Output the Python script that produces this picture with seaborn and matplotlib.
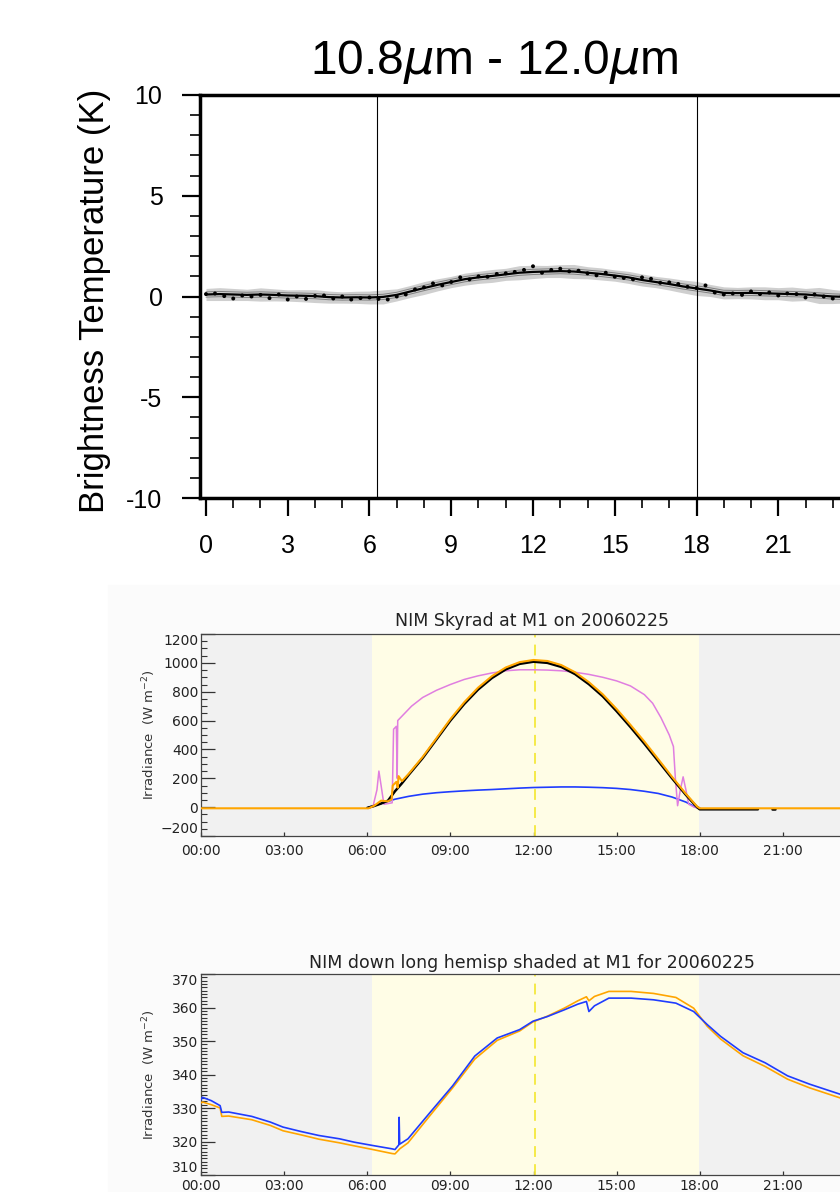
import matplotlib
matplotlib.use("Agg")
import matplotlib.pyplot as plt
from matplotlib.patches import Rectangle
from matplotlib.ticker import MultipleLocator, FixedLocator, FuncFormatter
import numpy as np
import seaborn as sns

sns.set_theme(style="white")
plt.rcParams["font.family"] = ["Liberation Sans", "DejaVu Sans"]
plt.rcParams["axes.unicode_minus"] = True

# ---------- panel 1: brightness temperature difference ----------
bt_hours = [0, 0.5, 1, 1.5, 2, 2.5, 3, 3.5, 4, 4.5, 5, 5.5, 6, 6.5, 7, 7.5, 8, 8.5,
            9, 9.5, 10, 10.5, 11, 11.5, 12, 12.5, 13, 13.5, 14, 14.5, 15, 15.5, 16,
            16.5, 17, 17.5, 18, 18.5, 19, 19.5, 20, 20.5, 21, 21.5, 22, 22.5, 23,
            23.5, 24]
bt_mean = [0.10, 0.12, 0.10, 0.08, 0.10, 0.08, 0.05, 0.04, 0.02, -0.03,
           -0.05, -0.04, -0.05, -0.02, 0.08, 0.25, 0.42, 0.58, 0.72, 0.86,
           0.95, 1.02, 1.10, 1.18, 1.22, 1.24, 1.26, 1.24, 1.18, 1.12,
           1.04, 0.95, 0.82, 0.72, 0.62, 0.50, 0.40, 0.30, 0.18, 0.17,
           0.18, 0.16, 0.14, 0.12, 0.10, 0.05, 0.00, -0.02, 0.00]
bt_spread = [0.30, 0.32, 0.30, 0.28, 0.33, 0.30, 0.28, 0.30, 0.32, 0.30,
             0.28, 0.30, 0.32, 0.35, 0.30, 0.30, 0.32, 0.30, 0.28, 0.30,
             0.30, 0.32, 0.30, 0.35, 0.33, 0.30, 0.32, 0.35, 0.30, 0.30,
             0.28, 0.30, 0.30, 0.28, 0.30, 0.32, 0.35, 0.30, 0.30, 0.28,
             0.30, 0.32, 0.30, 0.35, 0.30, 0.40, 0.35, 0.30, 0.30]
bt_inner = 0.13
dot_hours = [0.0, 0.33, 0.67, 1.0, 1.33, 1.67, 2.0, 2.33, 2.67, 3.0, 3.33, 3.67,
             4.0, 4.33, 4.67, 5.0, 5.33, 5.67, 6.0, 6.33, 6.67, 7.0, 7.33, 7.67,
             8.0, 8.33, 8.67, 9.0, 9.33, 9.67, 10.0, 10.33, 10.67, 11.0, 11.33, 11.67,
             12.0, 12.33, 12.67, 13.0, 13.33, 13.67, 14.0, 14.33, 14.67, 15.0, 15.33, 15.67,
             16.0, 16.33, 16.67, 17.0, 17.33, 17.67, 18.0, 18.33, 18.67, 19.0, 19.33, 19.67,
             20.0, 20.33, 20.67, 21.0, 21.33, 21.67, 22.0, 22.33, 22.67, 23.0, 23.33, 23.67]
dot_vals = [0.12, 0.15, 0.02, -0.10, 0.05, 0.00, 0.08, -0.08, 0.10, -0.15, 0.00, -0.12,
            0.03, 0.05, -0.10, 0.00, -0.15, -0.08, -0.05, -0.12, -0.15, 0.00, 0.10, 0.35,
            0.45, 0.65, 0.55, 0.72, 0.95, 0.85, 1.00, 0.98, 1.12, 1.15, 1.22, 1.32,
            1.50, 1.18, 1.32, 1.38, 1.25, 1.28, 1.15, 1.05, 1.18, 0.98, 0.92, 0.85,
            0.95, 0.88, 0.68, 0.70, 0.62, 0.48, 0.42, 0.55, 0.20, 0.10, 0.15, 0.08,
            0.25, 0.12, 0.20, 0.05, 0.15, 0.12, -0.05, 0.10, 0.00, -0.10, 0.05, -0.10]
bt_marks = [6.27, 18.0]
hour_ticks = [0, 3, 6, 9, 12, 15, 18, 21]

# ---------- panel 2: NIM Skyrad shortwave ----------
sw_ticks = [-200, 0, 200, 400, 600, 800, 1000, 1200]
sw_black_t = [6.0, 6.25, 6.5, 6.75, 7.0, 7.25, 7.5, 8.0, 8.5, 9.0, 9.5, 10.0, 10.5, 11.0,
              11.5, 12.0, 12.5, 13.0, 13.5, 14.0, 14.5, 15.0, 15.5, 16.0, 16.5, 17.0,
              17.5, 17.9, 18.0, 20.1]
sw_black_v = [-5, 8, 25, 45, 110, 165, 225, 340, 470, 600, 715, 815, 895, 955,
              993, 1008, 1000, 972, 922, 852, 768, 665, 555, 440, 320, 200,
              85, 0, -15, -15]
sw_black_dash_t = [20.62, 20.72]
sw_black_dash_v = [-15, -15]
sw_orange_t = [0.0, 6.05, 6.25, 6.5, 6.75, 6.88, 6.92, 7.05, 7.1, 7.13, 7.25, 7.5, 8.0,
               8.5, 9.0, 9.5, 10.0, 10.5, 11.0, 11.5, 12.0, 12.5, 13.0, 13.5, 14.0,
               14.5, 15.0, 15.5, 16.0, 16.5, 17.0, 17.5, 17.9, 18.0, 24.0]
sw_orange_v = [-8, -8, 10, 45, 40, 55, 150, 175, 135, 215, 180, 232, 348,
               478, 610, 727, 828, 908, 968, 1005, 1020, 1013, 985, 935, 866,
               782, 680, 570, 455, 333, 210, 92, 5, -8, -8]
sw_violet_t = [6.2, 6.35, 6.42, 6.5, 6.6, 6.9, 6.95, 7.05, 7.08, 7.1, 7.3, 7.6, 8.0,
               8.5, 9.0, 9.5, 10.0, 10.5, 11.0, 11.5, 12.0, 12.5, 13.0, 13.5, 14.0,
               14.5, 15.0, 15.5, 16.0, 16.3, 16.6, 16.9, 17.05, 17.12, 17.2, 17.3,
               17.4, 17.5, 17.6, 17.8, 18.0]
sw_violet_v = [0, 120, 250, 150, 20, 30, 540, 560, 200, 600, 640, 700, 760,
               810, 850, 885, 910, 930, 945, 952, 952, 950, 945, 935, 920,
               900, 875, 840, 780, 720, 620, 500, 420, 200, 10, 120,
               210, 120, 20, 0, -10]
sw_blue_t = [6.05, 6.5, 7.0, 7.5, 8.0, 8.5, 9.0, 9.5, 10.0, 10.5, 11.0, 11.5, 12.0,
             12.5, 13.0, 13.5, 14.0, 14.5, 15.0, 15.5, 16.0, 16.5, 17.0, 17.5, 17.8, 18.0]
sw_blue_v = [0, 25, 55, 75, 90, 100, 107, 113, 118, 122, 127, 132, 136,
             138, 140, 140, 138, 135, 130, 122, 110, 95, 70, 35, 5, -5]

# ---------- panel 3: NIM down long hemisp shaded ----------
lw_ticks = [310, 320, 330, 340, 350, 360, 370]
lw_t = [0.0, 0.05, 0.37, 0.69, 0.75, 1.0, 1.83, 2.5, 2.96, 3.6, 4.25, 5.0, 5.53, 6.2,
        6.9, 7.0, 7.14, 7.15, 7.17, 7.47, 8.27, 9.08, 9.88, 10.69, 11.5, 11.98, 12.5,
        13.11, 13.6, 13.91, 14.0, 14.2, 14.72, 15.52, 16.33, 17.14, 17.78, 18.27,
        18.75, 19.56, 20.36, 21.17, 21.97, 23.07, 24.0]
lw_blue_v = [332.5, 333.2, 332.2, 330.7, 328.7, 328.8, 327.5, 325.8, 324.3, 323.0,
             321.8, 320.8, 319.8, 318.8, 317.8, 317.6, 319.0, 327.2, 319.2, 320.8,
             328.7, 336.6, 345.5, 350.9, 353.4, 355.9, 357.3, 359.3, 361.0, 361.8,
             358.8, 360.5, 362.8, 362.8, 362.3, 361.3, 358.8, 354.9, 351.4, 346.5,
             343.5, 339.6, 337.1, 334.1, 332.5]
lw_orange_v = [331.5, 331.8, 331.0, 330.0, 327.5, 327.6, 326.5, 324.8, 323.2, 322.0,
               320.7, 319.6, 318.7, 317.6, 316.4, 316.3, 317.5, 317.6, 317.8, 319.6,
               327.8, 336.0, 344.6, 350.2, 353.0, 355.7, 357.4, 359.8, 362.0, 363.2,
               362.0, 363.3, 364.8, 364.8, 364.2, 363.0, 359.8, 354.4, 350.6, 345.6,
               342.4, 338.6, 336.0, 333.0, 331.4]

daylight = (6.17, 17.97)
solar_noon = 12.05

W, H = 840, 1192
fig = plt.figure(figsize=(W / 100, H / 100), dpi=100)
fig.patch.set_facecolor("white")


def box(left, top, right, bottom):
    return [left / W, 1 - bottom / H, (right - left) / W, (bottom - top) / H]


# faint backdrop behind the two NIM plots
fig.patches.append(Rectangle((108 / W, 0), 1 - 108 / W, 1 - 585 / H,
                             transform=fig.transFigure, color="#fbfbfb", zorder=-5))

# ----- panel 1 -----
ax1 = fig.add_axes(box(200, 95, 866, 498))
mean = np.array(bt_mean)
spread = np.array(bt_spread)
ax1.fill_between(bt_hours, mean - spread, mean + spread, color="#cfcfcf", lw=0)
sns.lineplot(x=bt_hours, y=mean + bt_inner, ax=ax1, color="#808080", lw=0.7)
sns.lineplot(x=bt_hours, y=mean - bt_inner, ax=ax1, color="#808080", lw=0.7)
sns.lineplot(x=bt_hours, y=bt_mean, ax=ax1, color="black", lw=1.6)
sns.scatterplot(x=dot_hours, y=dot_vals, ax=ax1, color="black", s=8,
                edgecolor="none", zorder=4)
for h in bt_marks:
    ax1.axvline(h, color="black", lw=0.8)

ax1.set_xlim(-0.22, 24.22)
ax1.set_ylim(-10, 10)
ax1.xaxis.set_major_locator(FixedLocator(hour_ticks))
ax1.xaxis.set_minor_locator(MultipleLocator(1))
ax1.yaxis.set_major_locator(MultipleLocator(5))
ax1.yaxis.set_minor_locator(MultipleLocator(1))
ax1.yaxis.set_major_formatter(FuncFormatter(lambda v, p: f"{v:g}".replace("\u2212", "-")))
ax1.tick_params(which="major", direction="out", length=13, width=1.6,
                labelsize=18, colors="black", labelcolor="black")
ax1.tick_params(which="minor", direction="out", length=7, width=1.4)
ax1.tick_params(axis="x", which="major", pad=13)
ax1.tick_params(axis="y", which="major", pad=14)
ax1.tick_params(bottom=True, left=True, which="both")
for side in ["left", "top", "bottom"]:
    ax1.spines[side].set_linewidth(2.5)
    ax1.spines[side].set_color("black")
ax1.spines["right"].set_visible(False)
ax1.set_facecolor("white")
fig.text(494 / W, 1 - 62 / H, r"10.8$\mu$m - 12.0$\mu$m", ha="center", va="center",
         fontsize=34.5, color="black")
fig.text(95 / W, 1 - 301 / H, "Brightness Temperature (K)", rotation=90,
         ha="center", va="center", fontsize=25, color="black")


def style_nim(ax, title, ylim, yticks, minor, title_off, xpad):
    ax.set_facecolor("#f1f1f1")
    ax.axvspan(daylight[0], daylight[1], color="#fffde6", lw=0, zorder=0)
    ax.axvline(solar_noon, color="#f5e83c", lw=1.3, dashes=(6, 4), zorder=1)
    ax.set_xlim(0, 24)
    ax.set_ylim(*ylim)
    ax.xaxis.set_major_locator(FixedLocator(hour_ticks))
    ax.xaxis.set_major_formatter(FuncFormatter(lambda v, p: f"{int(round(v)):02d}:00"))
    ax.yaxis.set_major_locator(FixedLocator(yticks))
    ax.yaxis.set_minor_locator(MultipleLocator(minor))
    ax.tick_params(axis="y", which="major", direction="in", length=10, width=0.9,
                   labelsize=10, pad=2, colors="#333333", left=True)
    ax.tick_params(axis="y", which="minor", direction="in", length=4.5, width=0.8,
                   colors="#333333", left=True)
    ax.tick_params(axis="x", which="major", direction="in", length=3, width=0.9,
                   labelsize=10, pad=xpad, colors="#333333", bottom=True)
    for s in ax.spines.values():
        s.set_color("#444444")
        s.set_linewidth(0.9)
    for lab in ax.get_xticklabels() + ax.get_yticklabels():
        lab.set_family("DejaVu Sans")
        lab.set_color("#222222")
    # end labels are nudged inside the frame, as in the original
    yt = ax.yaxis.get_major_ticks()
    yt[0].label1.set_va("bottom")
    yt[-1].label1.set_va("top")
    ax.text(331 / 665, 1 + title_off, title, transform=ax.transAxes,
            ha="center", va="center", fontsize=12.5, family="DejaVu Sans",
            color="#222222")
    ax.set_ylabel("Irradiance  (W m$^{-2}$)", fontsize=9.5, family="DejaVu Sans",
                  color="#333333", va="center")
    ax.yaxis.set_label_coords(-52 / 665, 0.5)


# ----- panel 2 -----
ax2 = fig.add_axes(box(201, 634, 866, 836))
style_nim(ax2, "NIM Skyrad at M1 on 20060225", (-200, 1200), sw_ticks, 50, 13 / 202, 6)
sns.lineplot(x=sw_blue_t, y=sw_blue_v, ax=ax2, color="#1f3cff", lw=1.2,
             sort=False, estimator=None, zorder=3)
sns.lineplot(x=sw_violet_t, y=sw_violet_v, ax=ax2, color="#e07ee0", lw=1.1,
             sort=False, estimator=None, zorder=3)
sns.lineplot(x=sw_black_t, y=sw_black_v, ax=ax2, color="black", lw=1.8,
             sort=False, estimator=None, zorder=4)
sns.lineplot(x=sw_black_dash_t, y=sw_black_dash_v, ax=ax2, color="black", lw=1.8,
             sort=False, estimator=None, zorder=4)
sns.lineplot(x=sw_orange_t, y=sw_orange_v, ax=ax2, color="#ffa500", lw=1.5,
             sort=False, estimator=None, zorder=5)
ax2.set_xlabel("")

# ----- panel 3 -----
ax3 = fig.add_axes(box(201, 974, 866, 1175))
style_nim(ax3, "NIM down long hemisp shaded at M1 for 20060225", (310, 370), lw_ticks, 1,
          11 / 201, 3)
sns.lineplot(x=lw_t, y=lw_orange_v, ax=ax3, color="#ffa500", lw=1.2,
             sort=False, estimator=None, zorder=3)
sns.lineplot(x=lw_t, y=lw_blue_v, ax=ax3, color="#1f3cff", lw=1.2,
             sort=False, estimator=None, zorder=4)
ax3.set_xlabel("")

fig.savefig("out.png", dpi=100)
